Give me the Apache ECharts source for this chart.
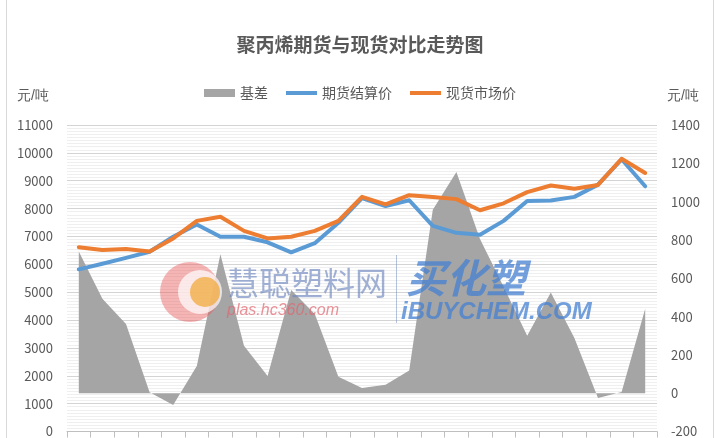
<!DOCTYPE html>
<html>
<head>
<meta charset="utf-8">
<script src="https://cdn.jsdelivr.net/npm/echarts@6/dist/echarts.min.js"></script>
<style>
html,body{margin:0;padding:0;background:#fff;}
#chart{width:720px;height:438px;}
</style>
</head>
<body>
<div id="chart"></div>
<script>
var titleText = '聚丙烯期货与现货对比走势图';
var seriesNames = ['基差', '期货结算价', '现货市场价'];
var unitLabel = '元/吨';
var categories = ['1','2','3','4','5','6','7','8','9','10','11','12','13','14','15','16','17','18','19','20','21','22','23','24','25'];
var basis   = [740, 493, 361, 5, -62, 142, 725, 247, 90, 539, 413, 86, 27, 44, 118, 958, 1155, 805, 555, 300, 525, 288, -25, 6, 441];
var futures = [5820, 6020, 6230, 6450, 6990, 7430, 6990, 6990, 6790, 6430, 6760, 7490, 8380, 8090, 8300, 7380, 7130, 7060, 7560, 8270, 8290, 8420, 8860, 9770, 8800];
var spot    = [6610, 6515, 6550, 6460, 6930, 7560, 7710, 7200, 6930, 6990, 7200, 7560, 8420, 8150, 8480, 8420, 8340, 7940, 8190, 8590, 8830, 8710, 8850, 9790, 9280];
var leftTicks = {min: 0, max: 11000, interval: 1000};
var rightTicks = {min: -200, max: 1400, interval: 200};

var FONT = '"Noto Sans CJK SC", "Noto Sans", sans-serif';
var TXT = '#595959';
var chart = echarts.init(document.getElementById('chart'), null, {renderer: 'canvas'});
var linePath = 'path://M0,0L31,0L31,4L0,4Z';
function plain(v) { return String(v); }
var WZ = 50;

chart.setOption({
  backgroundColor: '#ffffff',
  animation: false,
  textStyle: {fontFamily: FONT},
  title: {
    text: titleText, left: 'center', top: 30,
    textStyle: {fontSize: 19, fontWeight: 'bold', color: TXT, fontFamily: FONT}
  },
  legend: {
    top: 81, left: 'center', itemGap: 18, itemWidth: 31, itemHeight: 8,
    textStyle: {fontSize: 14, color: TXT, fontFamily: FONT},
    data: [
      {name: seriesNames[0], icon: 'rect'},
      {name: seriesNames[1], icon: linePath},
      {name: seriesNames[2], icon: linePath}
    ]
  },
  grid: {left: 67, right: 63, top: 125, bottom: 4, containLabel: false},
  xAxis: {
    type: 'category', data: categories, boundaryGap: true,
    axisLine: {show: true, lineStyle: {color: '#bfbfbf', width: 1}},
    axisTick: {show: true, length: 6, lineStyle: {color: '#bfbfbf'}},
    axisLabel: {show: false},
    splitLine: {show: false}
  },
  yAxis: [
    {
      type: 'value', min: leftTicks.min, max: leftTicks.max, interval: leftTicks.interval,
      axisLine: {show: false}, axisTick: {show: false},
      axisLabel: {color: TXT, fontSize: 13, margin: 14, fontFamily: FONT, formatter: plain},
      splitLine: {show: true, lineStyle: {color: '#d4d4d4', width: 1}},
      minorTick: {show: false, splitNumber: 9},
      minorSplitLine: {show: true, lineStyle: {color: '#efefef', width: 1}}
    },
    {
      type: 'value', min: rightTicks.min, max: rightTicks.max, interval: rightTicks.interval,
      position: 'right',
      axisLine: {show: false}, axisTick: {show: false},
      axisLabel: {color: TXT, fontSize: 13, margin: 14, fontFamily: FONT, formatter: plain},
      splitLine: {show: false}
    }
  ],
  series: [
    {
      name: seriesNames[0], type: 'line', yAxisIndex: 1, data: basis,
      symbol: 'none', smooth: false,
      lineStyle: {width: 0, color: '#a5a5a5'},
      itemStyle: {color: '#a5a5a5'},
      areaStyle: {color: '#a5a5a5', opacity: 1},
      z: 2
    },
    {
      name: seriesNames[1], type: 'line', yAxisIndex: 0, data: futures,
      symbol: 'none', smooth: false,
      lineStyle: {width: 4, color: '#5b9bd5', cap: 'round', join: 'round'},
      itemStyle: {color: '#5b9bd5'},
      z: 3
    },
    {
      name: seriesNames[2], type: 'line', yAxisIndex: 0, data: spot,
      symbol: 'none', smooth: false,
      lineStyle: {width: 4, color: '#ed7d31', cap: 'round', join: 'round'},
      itemStyle: {color: '#ed7d31'},
      z: 4
    }
  ],
  graphic: [
    {type: 'line', shape: {x1: 6.5, y1: 0, x2: 6.5, y2: 438}, style: {stroke: '#d9d9d9', lineWidth: 1}, silent: true},
    {type: 'line', shape: {x1: 713.5, y1: 0, x2: 713.5, y2: 438}, style: {stroke: '#d9d9d9', lineWidth: 1}, silent: true},
    {type: 'text', left: 17, top: 89, style: {text: unitLabel, fontSize: 14, fill: TXT, font: '14px ' + FONT}, silent: true},
    {type: 'text', left: 667, top: 89, style: {text: unitLabel, fontSize: 14, fill: TXT, font: '14px ' + FONT}, silent: true},
    // watermark
    {type: 'circle', z: WZ, silent: true, shape: {cx: 190, cy: 292, r: 30}, style: {fill: 'rgba(232,90,90,0.45)'}},
    {type: 'circle', z: WZ + 1, silent: true, shape: {cx: 200, cy: 292, r: 22}, style: {fill: 'rgba(255,255,255,0.7)'}},
    {type: 'circle', z: WZ + 2, silent: true, shape: {cx: 205, cy: 292, r: 15}, style: {fill: 'rgba(240,170,60,0.75)'}},
    {type: 'text', z: WZ, silent: true, x: 227, y: 267, style: {text: '慧聪塑料网', font: '32px ' + FONT, fill: 'rgba(110,135,190,0.65)'}},
    {type: 'text', z: WZ, silent: true, x: 227, y: 303, style: {text: 'plas.hc360.com', font: 'italic 16px "Liberation Sans", sans-serif', fill: 'rgba(225,100,110,0.7)'}},
    {type: 'rect', z: WZ, silent: true, shape: {x: 396, y: 255, width: 1, height: 68}, style: {fill: 'rgba(110,135,190,0.5)'}},
    {type: 'text', z: WZ, silent: true, x: 406, y: 258, style: {text: '买化塑', font: 'italic bold 40px ' + FONT, fill: 'rgba(70,130,210,0.75)'}},
    {type: 'text', z: WZ, silent: true, x: 401, y: 300, style: {text: 'iBUYCHEM.COM', font: 'italic bold 24px "Liberation Sans", sans-serif', fill: 'rgba(70,130,210,0.75)'}}
  ]
});
</script>
</body>
</html>
